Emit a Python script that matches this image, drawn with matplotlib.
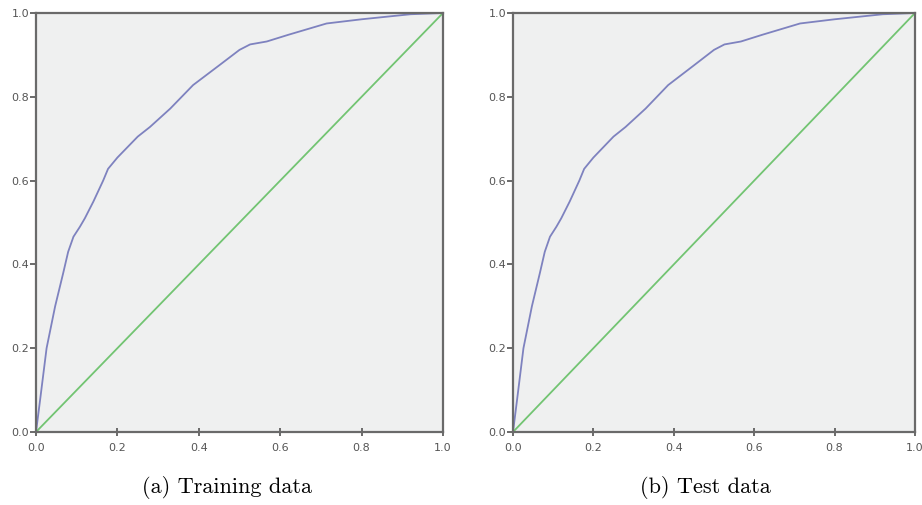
"""
ROC curves, training vs test data (two panels).
Output: out.png
"""
import matplotlib.pyplot as plt

# ROC points (false positive rate, true positive rate)
train_fpr = [0.0, 0.01, 0.026, 0.047, 0.067, 0.079, 0.092, 0.108, 0.12, 0.141,
             0.165, 0.177, 0.2, 0.25, 0.28, 0.33, 0.386, 0.45, 0.50, 0.526,
             0.567, 0.62, 0.714, 0.8, 0.92, 1.0]
train_tpr = [0.0, 0.076, 0.20, 0.30, 0.38, 0.43, 0.466, 0.49, 0.51, 0.55,
             0.60, 0.628, 0.655, 0.705, 0.728, 0.772, 0.828, 0.875, 0.912, 0.925,
             0.932, 0.948, 0.975, 0.985, 0.997, 1.0]
test_fpr = list(train_fpr)
test_tpr = list(train_tpr)

ref_line = [0.0, 1.0]
ticks = [0.0, 0.2, 0.4, 0.6, 0.8, 1.0]
captions = ["(a) Training data", "(b) Test data"]

CURVE = "#7e82bf"
DIAG = "#72c472"
SPINE = "#6a6a6a"


def roc_panel(ax, fpr, tpr):
    ax.set_facecolor("#eff0f0")
    ax.plot(fpr, tpr, color=CURVE, lw=1.3)
    ax.plot(ref_line, ref_line, color=DIAG, lw=1.3)
    ax.set_xlim(0, 1)
    ax.set_ylim(0, 1)
    ax.set_xticks(ticks)
    ax.set_yticks(ticks)
    ax.set_xticklabels([f"{t:.1f}" for t in ticks])
    ax.set_yticklabels([f"{t:.1f}" for t in ticks])
    for s in ax.spines.values():
        s.set_color(SPINE)
        s.set_linewidth(1.6)
    ax.tick_params(axis="x", direction="inout", length=6, width=1.4,
                   color=SPINE, labelsize=8, labelcolor="#555555", pad=5)
    ax.tick_params(axis="y", direction="out", length=4, width=1.4,
                   color=SPINE, labelsize=8, labelcolor="#555555", pad=1)


def main():
    fig = plt.figure(figsize=(9.22, 5.05), dpi=100)
    ax1 = fig.add_axes([36 / 922, 73 / 505, 407 / 922, 419 / 505])
    ax2 = fig.add_axes([513 / 922, 73 / 505, 402 / 922, 419 / 505])

    roc_panel(ax1, train_fpr, train_tpr)
    roc_panel(ax2, test_fpr, test_tpr)

    fig.text(0.246, 0.034, captions[0], ha="center", va="center",
             family="cmr10", fontsize=16)
    fig.text(0.765, 0.034, captions[1], ha="center", va="center",
             family="cmr10", fontsize=16)

    fig.savefig("out.png", dpi=100)
    plt.close(fig)


if __name__ == "__main__":
    main()
